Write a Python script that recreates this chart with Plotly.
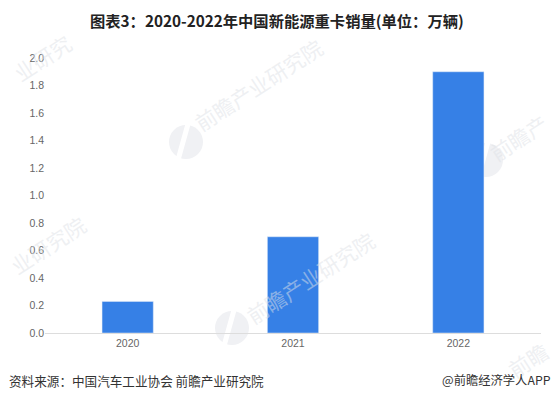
import plotly.graph_objects as go

years = ["2020", "2021", "2022"]
sales = [0.23, 0.70, 1.90]
y_ticks = [0.0, 0.2, 0.4, 0.6, 0.8, 1.0, 1.2, 1.4, 1.6, 1.8, 2.0]

title_text = "<b>图表3：2020-2022年中国新能源重卡销量(单位：万辆)</b>"
source_text = "资料来源：中国汽车工业协会 前瞻产业研究院"
credit_text = "@前瞻经济学人APP"
# watermarks run off the page in the reference, so only the visible part is written
wm_text = ["业研究", "前瞻产业研究院", "前瞻产", "业研究院", "前瞻产业研究院", "前瞻"]
# watermark centres in pixels from the top left
wm_x = [42, 258, 518, 48, 310, 528]
wm_y = [58, 85, 138, 245, 278, 360]
# round logo next to some of the watermarks
logo_x = [186, 486, 232]
logo_y = [142, 160, 328]

W, H = 555, 400
FONT = "Noto Sans CJK SC"

fig = go.Figure()
fig.add_trace(go.Bar(x=years, y=sales, marker_color="#3680E6", width=0.31))

annotations = [
    dict(text=t, x=a / W, y=1 - b / H, xref="paper", yref="paper", showarrow=False,
         xanchor="center", yanchor="middle", textangle=-33,
         font=dict(family=FONT, size=21, color="rgba(222,225,230,0.5)"))
    for t, a, b in zip(wm_text, wm_x, wm_y)
]
annotations += [
    dict(text=title_text, x=277 / W, y=1 - 20 / H, xref="paper", yref="paper", showarrow=False,
         xanchor="center", yanchor="middle", font=dict(family=FONT, size=15.3, color="#222222")),
    dict(text=source_text, x=7 / W, y=1 - 380 / H, xref="paper", yref="paper", showarrow=False,
         xanchor="left", yanchor="middle", font=dict(family=FONT, size=12.6, color="#333333")),
    dict(text=credit_text, x=553 / W, y=1 - 380 / H, xref="paper", yref="paper", showarrow=False,
         xanchor="right", yanchor="middle", font=dict(family=FONT, size=12.3, color="#333333")),
]

shapes = []
for a, b in zip(logo_x, logo_y):
    shapes.append(dict(type="circle", xref="paper", yref="paper", layer="below",
                       x0=(a - 17) / W, x1=(a + 17) / W, y0=1 - (b + 17) / H, y1=1 - (b - 17) / H,
                       fillcolor="#F0F1F4", line_width=0))
    # white slit across the logo
    shapes.append(dict(type="line", xref="paper", yref="paper", layer="below",
                       x0=(a - 8) / W, x1=(a + 2) / W, y0=1 - (b + 18) / H, y1=1 - (b - 18) / H,
                       line=dict(color="white", width=5)))

fig.update_layout(
    width=W, height=H, autosize=False,
    margin=dict(l=0, r=0, t=0, b=0),
    paper_bgcolor="white", plot_bgcolor="rgba(0,0,0,0)",
    showlegend=False, annotations=annotations, shapes=shapes,
    font=dict(family="Liberation Sans", size=10.5, color="#666666"),
)
fig.update_xaxes(domain=[45 / W, 541 / W], showline=True, linecolor="#DDDDDD", linewidth=1,
                 ticks="", showgrid=False)
fig.update_yaxes(domain=[67 / H, 342 / H], range=[0, 2], tickvals=y_ticks, tickformat=".1f",
                 showgrid=False, zeroline=False, ticks="", automargin=False)

# drop the browser's default page margin so the figure fills the window
fig.write_html("out.html", config={"displayModeBar": False},
               post_script="document.body.style.margin='0';document.body.style.overflow='hidden';")
